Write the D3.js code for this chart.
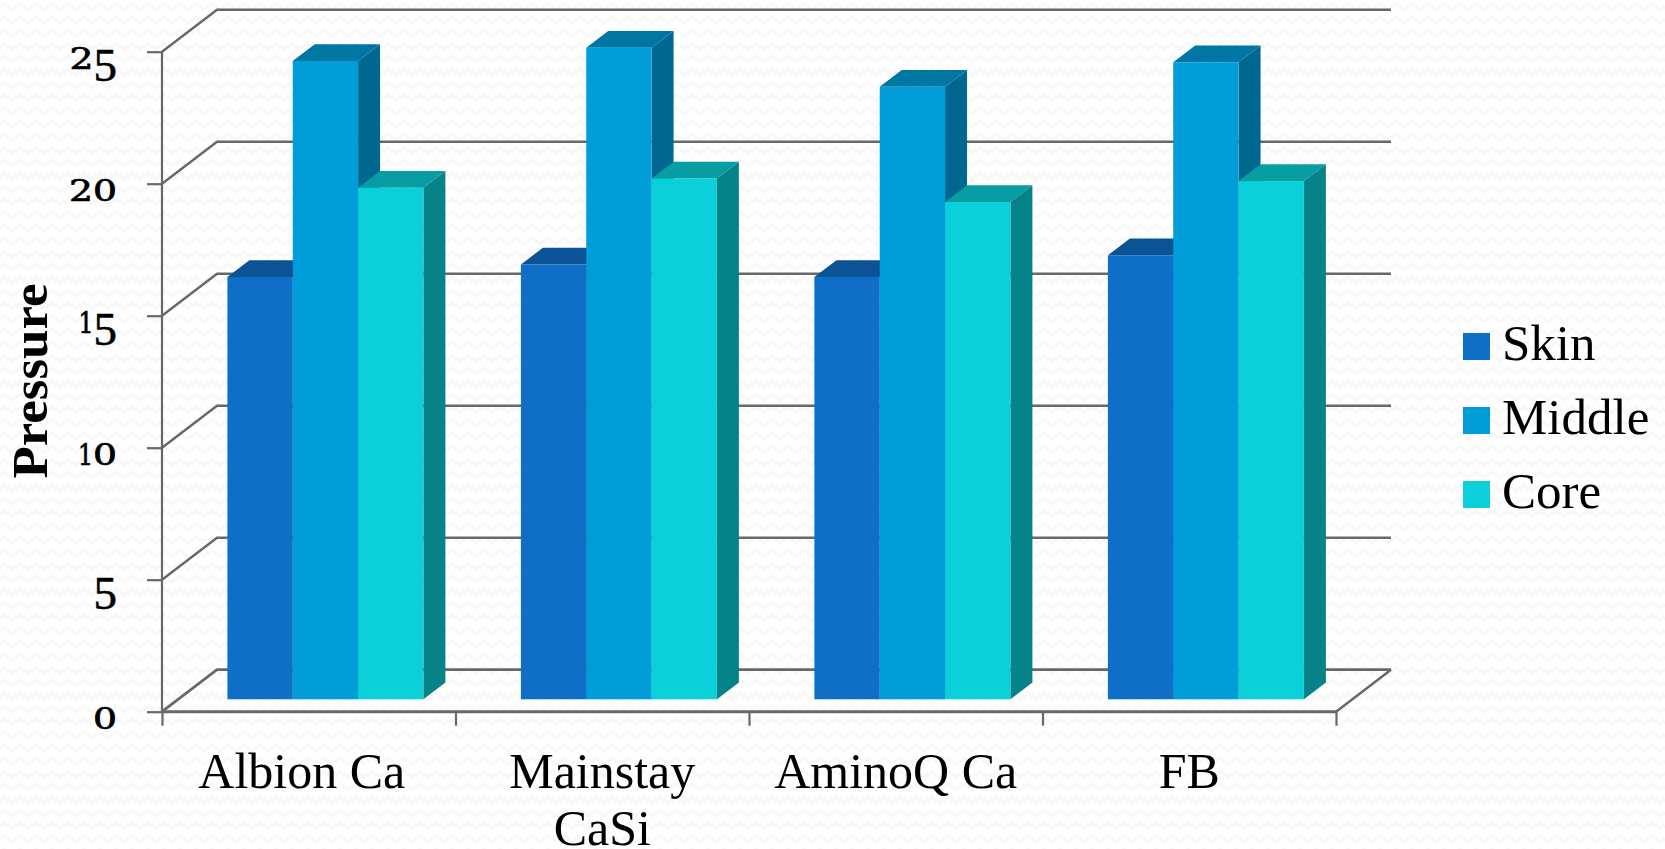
<!DOCTYPE html>
<html><head><meta charset="utf-8">
<script src="https://cdnjs.cloudflare.com/ajax/libs/d3/7.8.5/d3.min.js"></script>
<style>html,body{margin:0;padding:0;background:#fff;overflow:hidden}svg{display:block}</style>
</head><body><svg id="c" width="1665" height="849"></svg>
<script>
const categories = ["Albion Ca", "Mainstay CaSi", "AminoQ Ca", "FB"];
const seriesNames = ["Skin", "Middle", "Core"];
const skinValues = [16.0, 16.47, 16.0, 16.82];
const middleValues = [24.18, 24.68, 23.2, 24.13];
const coreValues = [19.38, 19.73, 18.84, 19.63];
const yTicks = [0, 5, 10, 15, 20, 25];
const yTitle = "Pressure";
const seriesValues = [skinValues, middleValues, coreValues];

const frontColors = ["#0F6FC6", "#009DD9", "#0BD0D9"];
const topColors = ["#0B5394", "#0076A3", "#089CA3"];
const sideColors = ["#0A4A84", "#006890", "#068389"];
const axisColor = "#686868";
const serif = "'Liberation Serif', serif";

const svg = d3.select("#c");
const defs = svg.append("defs");
const pat = defs.append("pattern").attr("id", "bg").attr("patternUnits", "userSpaceOnUse")
  .attr("width", 16).attr("height", 13);
pat.append("rect").attr("width", 16).attr("height", 13).attr("fill", "#fff");
pat.append("path").attr("d", "M-1 9 L4 4 L12 10 L17 5").attr("fill", "none")
  .attr("stroke", "#f8f8f8").attr("stroke-width", 3);
svg.append("rect").attr("width", 1665).attr("height", 849).attr("fill", "url(#bg)");

const y = d3.scaleLinear().domain([0, 25]).range([711.7, 51.7]);
const x = d3.scaleBand().domain(categories).range([162, 1336]);
const wallDx = 55, wallDy = 42;

const grid = svg.append("g").attr("stroke", axisColor).attr("fill", "none");
grid.selectAll(".g").data(yTicks).join("path")
  .attr("d", v => `M${x.range()[0]} ${y(v)} L${x.range()[0] + wallDx} ${y(v) - wallDy} H${x.range()[1] + wallDx}`)
  .attr("stroke-width", v => v === 0 ? 2.8 : 2.4);
grid.append("path").attr("stroke-width", 2.4).attr("d", `M${x.range()[1]} ${y(0)} L${x.range()[1] + wallDx} ${y(0) - wallDy}`);

const gy = svg.append("g").attr("transform", `translate(${x.range()[0]},0)`)
  .call(d3.axisLeft(y).tickValues(yTicks).tickSize(15).tickFormat(""));
gy.selectAll("path,line").attr("stroke", axisColor).attr("stroke-width", 2.2);
gy.select(".domain").attr("d", `M0 ${y(25)} V${y(0)}`);

const xEdges = d3.scaleLinear().domain([0, categories.length]).range(x.range());
const gx = svg.append("g").attr("transform", `translate(0,${y(0)})`)
  .call(d3.axisBottom(xEdges).tickValues(d3.range(categories.length + 1)).tickSize(14).tickFormat(""));
gx.selectAll("line").attr("stroke", axisColor).attr("stroke-width", 2.2);
gx.select(".domain").attr("d", `M${x.range()[0]} 0 H${x.range()[1]}`).attr("stroke", axisColor).attr("stroke-width", 3);

// Y tick labels: old-style figures built from real digits
const dropDigits = new Set(["5"]);
const smallDigitWidth = {"0": 24, "1": 15, "2": 24};
const labels = svg.append("g");
yTicks.forEach(v => {
  const t = labels.append("text").attr("x", 117).attr("y", y(v) + 17.5).attr("text-anchor", "end")
    .attr("fill", "#000");
  String(v).split("").forEach((ch, i, arr) => {
    const prevDrop = i > 0 && dropDigits.has(arr[i - 1]);
    if (dropDigits.has(ch)) {
      t.append("tspan").text(ch).attr("font-family", serif).attr("font-size", 47)
        .attr("dy", 11.5).attr("stroke", "#000").attr("stroke-width", 0.6);
    } else {
      t.append("tspan").text(ch).attr("font-family", "'DejaVu Serif', serif").attr("font-size", 29)
        .attr("dy", prevDrop ? -11.5 : 0).attr("stroke", "#000").attr("stroke-width", 0.7)
        .attr("textLength", smallDigitWidth[ch]).attr("lengthAdjust", "spacingAndGlyphs");
    }
  });
});

// Bars
const barsLeft = 65.4, barsWidth = 196, depthX = 22, depthY = 16.7, floorGap = 12.4;
const inner = d3.scaleBand().domain(seriesNames).range([barsLeft, barsLeft + barsWidth]);
const base = y(0) - floorGap;
const barY = v => y(v) - floorGap;
categories.forEach((c, ci) => {
  const g = svg.append("g").attr("class", "group");
  seriesNames.forEach((s, si) => {
    const v = seriesValues[si][ci];
    const x0 = x(c) + inner(s), w = inner.bandwidth(), yt = barY(v);
    const poly = (pts, fill) => g.append("polygon").attr("points", pts.map(p => p.join(",")).join(" "))
      .attr("fill", fill);
    poly([[x0 + w, yt], [x0 + w + depthX, yt - depthY], [x0 + w + depthX, base - depthY], [x0 + w, base]], sideColors[si]);
    poly([[x0, yt], [x0 + depthX, yt - depthY], [x0 + w + depthX, yt - depthY], [x0 + w, yt]], topColors[si]);
    g.append("rect").attr("x", x0).attr("y", yt).attr("width", w).attr("height", base - yt).attr("fill", frontColors[si]);
  });
});

// Category labels
const catGroup = svg.append("g").attr("font-family", serif).attr("font-size", 50).attr("fill", "#000").attr("text-anchor", "middle");
const wrapped = c => c === "Mainstay CaSi" ? ["Mainstay", "CaSi"] : [c];
categories.forEach((c, ci) => {
  const nudge = ci === 0 ? -7 : 0;
  const t = catGroup.append("text").attr("x", x(c) + x.bandwidth() / 2 + nudge).attr("y", 788);
  wrapped(c).forEach((line, i) => {
    t.append("tspan").attr("x", x(c) + x.bandwidth() / 2 + nudge).attr("dy", i ? 57 : 0).text(line);
  });
});

// Y title
svg.append("text").attr("transform", "translate(47,478.5) rotate(-90)")
  .attr("font-family", serif).attr("font-weight", "bold").attr("font-size", 50).attr("fill", "#000")
  .attr("textLength", 195).attr("lengthAdjust", "spacingAndGlyphs").text(yTitle);

// Legend
const legendY = d3.scalePoint().domain(seriesNames).range([333, 481]);
const lg = svg.append("g");
seriesNames.forEach((s, i) => {
  lg.append("rect").attr("x", 1463).attr("y", legendY(s)).attr("width", 27).attr("height", 27).attr("fill", frontColors[i]);
  lg.append("text").attr("x", 1502).attr("y", legendY(s) + 27).attr("font-family", serif)
    .attr("font-size", 51).attr("fill", "#000").text(s);
});
</script></body></html>
